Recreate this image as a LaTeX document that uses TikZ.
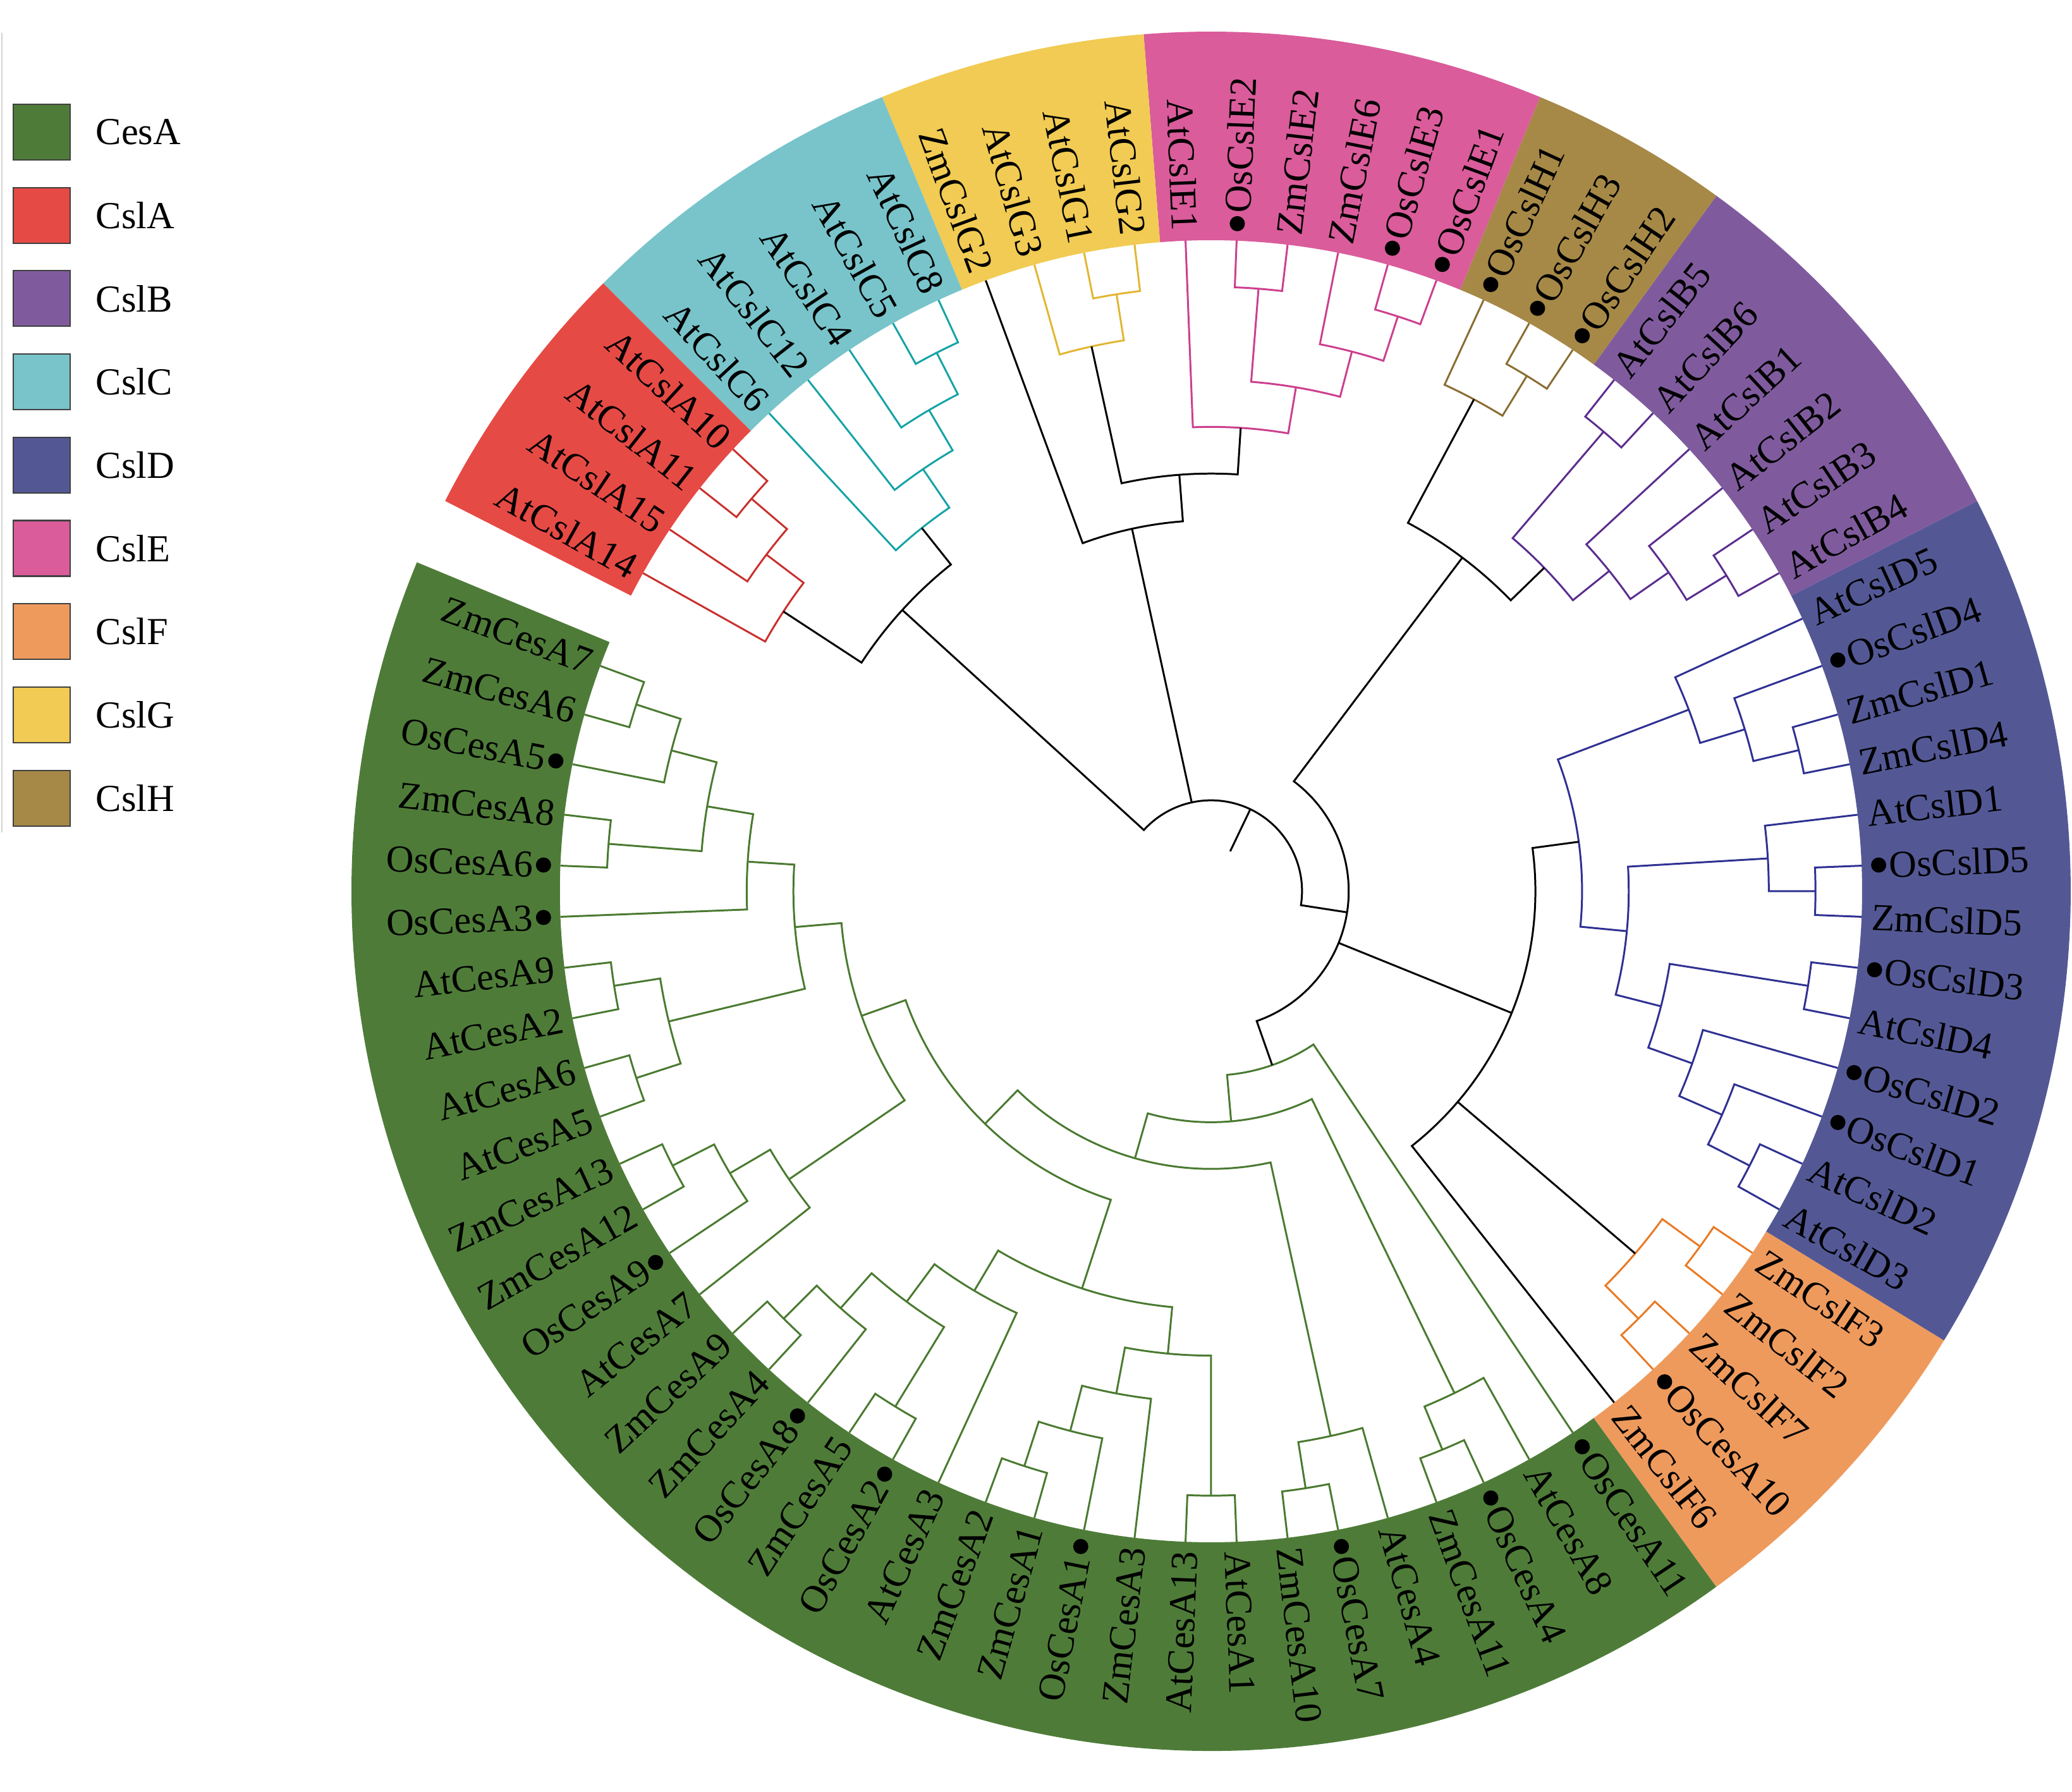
\documentclass[tikz,border=0pt]{standalone}
\usepackage{fontspec}
\setmainfont{Liberation Serif}
\usetikzlibrary{positioning}

\definecolor{cesaFill}{HTML}{4E7C38}
\definecolor{cslaFill}{HTML}{E64A45}
\definecolor{cslbFill}{HTML}{7F5B9D}
\definecolor{cslcFill}{HTML}{78C4CA}
\definecolor{csldFill}{HTML}{535895}
\definecolor{csleFill}{HTML}{DA5C9B}
\definecolor{cslfFill}{HTML}{EE9A5D}
\definecolor{cslgFill}{HTML}{F1CB53}
\definecolor{cslhFill}{HTML}{A68947}
\definecolor{cesaLine}{HTML}{4A7A30}
\definecolor{cslaLine}{HTML}{C8312D}
\definecolor{cslbLine}{HTML}{5B2D8E}
\definecolor{cslcLine}{HTML}{16A3A6}
\definecolor{csldLine}{HTML}{2F3192}
\definecolor{csleLine}{HTML}{CC3F8E}
\definecolor{cslfLine}{HTML}{E87A25}
\definecolor{cslgLine}{HTML}{E2B632}
\definecolor{cslhLine}{HTML}{8A6D33}

\tikzset{
  twig/.style={line width=0.85pt},
  backbone/.style={twig, draw=black},
  cesa/.style={twig, draw=cesaLine},
  csla/.style={twig, draw=cslaLine},
  cslb/.style={twig, draw=cslbLine},
  cslc/.style={twig, draw=cslcLine},
  csld/.style={twig, draw=csldLine},
  csle/.style={twig, draw=csleLine},
  cslf/.style={twig, draw=cslfLine},
  cslg/.style={twig, draw=cslgLine},
  cslh/.style={twig, draw=cslhLine},
  leaflabel/.style={inner sep=0pt, font=\fontsize{17.2}{20}\selectfont},
  legendbox/.style={draw=black!75, line width=0.6pt, minimum width=0.90cm,
    minimum height=0.88cm, inner sep=0pt},
  legendtext/.style={inner sep=0pt, font=\fontsize{17.2}{20}\selectfont},
}

% leaf: name, slot, dot
\newcommand{\leaf}[3]{%
  \pgfmathsetmacro{\lang}{159.75+4.5*#2}%
  \expandafter\xdef\csname ang@#1\endcsname{\lang}%
  \expandafter\xdef\csname rad@#1\endcsname{10.3}%
  \ifnum#3=1 \fill (\lang:10.57) circle[radius=0.12];\def\lrad{10.73}\else\def\lrad{10.45}\fi
  \pgfmathtruncatemacro{\lside}{cos(\lang)>=0}%
  \ifnum\lside=1
    \node[leaflabel, anchor=west, rotate=\lang] at (\lang:\lrad) {#1};
  \else
    \node[leaflabel, anchor=east, rotate=\lang+180] at (\lang:\lrad) {#1};
  \fi
}
% clade: [style]{name}{level}{left}{right}
\newcommand{\clade}[5][backbone]{%
  \pgfmathsetmacro{\crad}{0.70+0.7385*#3}%
  \edef\aL{\csname ang@#4\endcsname}%
  \edef\aR{\csname ang@#5\endcsname}%
  \pgfmathsetmacro{\aM}{(\aL+\aR)/2}%
  \draw[#1] (\aL:\csname rad@#4\endcsname) -- (\aL:\crad)
    arc[start angle=\aL, end angle=\aR, radius=\crad] -- (\aR:\csname rad@#5\endcsname);
  \expandafter\xdef\csname ang@#2\endcsname{\aM}%
  \expandafter\xdef\csname rad@#2\endcsname{\crad}%
}
% extra child line: [style]{child}{level}
\newcommand{\stem}[3][backbone]{%
  \pgfmathsetmacro{\crad}{0.70+0.7385*#3}%
  \edef\aC{\csname ang@#2\endcsname}%
  \draw[#1] (\aC:\csname rad@#2\endcsname) -- (\aC:\crad);
}
\newcommand{\sector}[3]{%
  \fill[#1] (#2:10.3) arc[start angle=#2, end angle=#3, radius=10.3]
    -- (#3:13.6) arc[start angle=#3, end angle=#2, radius=13.6] -- cycle;
}

\begin{document}
\begin{tikzpicture}
\useasboundingbox (-19.16,-14.25) rectangle (13.62,14.10);

% coloured ring
\sector{cesaFill}{157.5}{306}
\sector{cslfFill}{306}{328.5}
\sector{csldFill}{328.5}{387}
\sector{cslbFill}{387}{414}
\sector{cslhFill}{414}{427.5}
\sector{csleFill}{427.5}{454.5}
\sector{cslgFill}{454.5}{472.5}
\sector{cslcFill}{472.5}{495}
\sector{cslaFill}{495}{513}

% leaves
\foreach \n/\s/\d in {
  ZmCesA7/0/0, ZmCesA6/1/0, OsCesA5/2/1, ZmCesA8/3/0, OsCesA6/4/1, OsCesA3/5/1,
  AtCesA9/6/0, AtCesA2/7/0, AtCesA6/8/0, AtCesA5/9/0, ZmCesA13/10/0, ZmCesA12/11/0,
  OsCesA9/12/1, AtCesA7/13/0, ZmCesA9/14/0, ZmCesA4/15/0, OsCesA8/16/1, ZmCesA5/17/0,
  OsCesA2/18/1, AtCesA3/19/0, ZmCesA2/20/0, ZmCesA1/21/0, OsCesA1/22/1, ZmCesA3/23/0,
  AtCesA13/24/0, AtCesA1/25/0, ZmCesA10/26/0, OsCesA7/27/1, AtCesA4/28/0, ZmCesA11/29/0,
  OsCesA4/30/1, AtCesA8/31/0, OsCesA11/32/1,
  ZmCslF6/33/0, OsCesA10/34/1, ZmCslF7/35/0, ZmCslF2/36/0, ZmCslF3/37/0,
  AtCslD3/38/0, AtCslD2/39/0, OsCslD1/40/1, OsCslD2/41/1, AtCslD4/42/0, OsCslD3/43/1,
  ZmCslD5/44/0, OsCslD5/45/1, AtCslD1/46/0, ZmCslD4/47/0, ZmCslD1/48/0, OsCslD4/49/1,
  AtCslD5/50/0,
  AtCslB4/51/0, AtCslB3/52/0, AtCslB2/53/0, AtCslB1/54/0, AtCslB6/55/0, AtCslB5/56/0,
  OsCslH2/57/1, OsCslH3/58/1, OsCslH1/59/1,
  OsCslE1/60/1, OsCslE3/61/1, ZmCslE6/62/0, ZmCslE2/63/0, OsCslE2/64/1, AtCslE1/65/0,
  AtCslG2/66/0, AtCslG1/67/0, AtCslG3/68/0, ZmCslG2/69/0,
  AtCslC8/70/0, AtCslC5/71/0, AtCslC4/72/0, AtCslC12/73/0, AtCslC6/74/0,
  AtCslA10/75/0, AtCslA11/76/0, AtCslA15/77/0, AtCslA14/78/0}
  {\leaf{\n}{\s}{\d}}

% CesA
\clade[cesa]{ce01}{12}{ZmCesA7}{ZmCesA6}
\clade[cesa]{ce02}{11}{ce01}{OsCesA5}
\clade[cesa]{ce34}{12}{ZmCesA8}{OsCesA6}
\clade[cesa]{ce04}{10}{ce02}{ce34}
\clade[cesa]{ce05}{9}{ce04}{OsCesA3}
\clade[cesa]{ce67}{12}{AtCesA9}{AtCesA2}
\clade[cesa]{ce89}{12}{AtCesA6}{AtCesA5}
\clade[cesa]{ce69}{11}{ce67}{ce89}
\clade[cesa]{ce09}{8}{ce05}{ce69}
\clade[cesa]{ce1011}{12}{ZmCesA13}{ZmCesA12}
\clade[cesa]{ce1012}{11}{ce1011}{OsCesA9}
\clade[cesa]{ce1013}{10}{ce1012}{AtCesA7}
\clade[cesa]{ce013}{7}{ce09}{ce1013}
\clade[cesa]{ce1415}{12}{ZmCesA9}{ZmCesA4}
\clade[cesa]{ce1416}{11}{ce1415}{OsCesA8}
\clade[cesa]{ce1718}{12}{ZmCesA5}{OsCesA2}
\clade[cesa]{ce1418}{10}{ce1416}{ce1718}
\clade[cesa]{ce1419}{9}{ce1418}{AtCesA3}
\clade[cesa]{ce2021}{12}{ZmCesA2}{ZmCesA1}
\clade[cesa]{ce2022}{11}{ce2021}{OsCesA1}
\clade[cesa]{ce2023}{10}{ce2022}{ZmCesA3}
\clade[cesa]{ce2425}{12}{AtCesA13}{AtCesA1}
\clade[cesa]{ce2025}{9}{ce2023}{ce2425}
\clade[cesa]{ce1425}{8}{ce1419}{ce2025}
\clade[cesa]{ce025}{6}{ce013}{ce1425}
\clade[cesa]{ce2627}{12}{ZmCesA10}{OsCesA7}
\clade[cesa]{ce2628}{11}{ce2627}{AtCesA4}
\clade[cesa]{ce028}{5}{ce025}{ce2628}
\clade[cesa]{ce2930}{12}{ZmCesA11}{OsCesA4}
\clade[cesa]{ce2931}{11}{ce2930}{AtCesA8}
\clade[cesa]{ce031}{4}{ce028}{ce2931}
\clade[cesa]{ceRoot}{3}{ce031}{OsCesA11}

% CslF and CslD
\clade[cslf]{f3435}{12}{OsCesA10}{ZmCslF7}
\clade[cslf]{f3637}{12}{ZmCslF2}{ZmCslF3}
\clade[cslf]{fRoot}{11}{f3435}{f3637}
\clade[csld]{d3839}{12}{AtCslD3}{AtCslD2}
\clade[csld]{d3840}{11}{d3839}{OsCslD1}
\clade[csld]{d3841}{10}{d3840}{OsCslD2}
\clade[csld]{d4243}{12}{AtCslD4}{OsCslD3}
\clade[csld]{d3843}{9}{d3841}{d4243}
\clade[csld]{d4445}{12}{ZmCslD5}{OsCslD5}
\clade[csld]{d4446}{11}{d4445}{AtCslD1}
\clade[csld]{d3846}{8}{d3843}{d4446}
\clade[csld]{d4748}{12}{ZmCslD4}{ZmCslD1}
\clade[csld]{d4749}{11}{d4748}{OsCslD4}
\clade[csld]{d4750}{10}{d4749}{AtCslD5}
\clade[csld]{dRoot}{7}{d3846}{d4750}
\clade{df}{6}{ZmCslF6}{dRoot}
\stem{fRoot}{6}

% CslB and CslH
\clade[cslb]{b5152}{12}{AtCslB4}{AtCslB3}
\clade[cslb]{b5153}{11}{b5152}{AtCslB2}
\clade[cslb]{b5154}{10}{b5153}{AtCslB1}
\clade[cslb]{b5556}{12}{AtCslB6}{AtCslB5}
\clade[cslb]{bRoot}{9}{b5154}{b5556}
\clade[cslh]{h5758}{12}{OsCslH2}{OsCslH3}
\clade[cslh]{hRoot}{11}{h5758}{OsCslH1}
\clade{hb}{8}{bRoot}{hRoot}
\clade{core}{2}{ceRoot}{hb}
\stem{df}{2}

% CslE and CslG
\clade[csle]{e6061}{12}{OsCslE1}{OsCslE3}
\clade[csle]{e6062}{11}{e6061}{ZmCslE6}
\clade[csle]{e6364}{12}{ZmCslE2}{OsCslE2}
\clade[csle]{e6064}{10}{e6062}{e6364}
\clade[csle]{eRoot}{9}{e6064}{AtCslE1}
\clade[cslg]{g6667}{12}{AtCslG2}{AtCslG1}
\clade[cslg]{gRoot}{11}{g6667}{AtCslG3}
\clade{eg}{8}{eRoot}{gRoot}
\clade{egz}{7}{eg}{ZmCslG2}

% CslC and CslA
\clade[cslc]{cc7071}{12}{AtCslC8}{AtCslC5}
\clade[cslc]{cc7072}{11}{cc7071}{AtCslC4}
\clade[cslc]{cc7073}{10}{cc7072}{AtCslC12}
\clade[cslc]{ccRoot}{9}{cc7073}{AtCslC6}
\clade[csla]{a7576}{12}{AtCslA10}{AtCslA11}
\clade[csla]{a7577}{11}{a7576}{AtCslA15}
\clade[csla]{aRoot}{10}{a7577}{AtCslA14}
\clade{ac}{8}{ccRoot}{aRoot}

% root
\clade{root}{1}{core}{ac}
\stem{egz}{1}
\stem{root}{0}

% legend
\draw[gray!35, line width=0.6pt] (-19.13,13.58) -- (-19.13,0.93);
\foreach \nm/\col [count=\k from 0] in {CesA/cesaFill, CslA/cslaFill, CslB/cslbFill,
    CslC/cslcFill, CslD/csldFill, CslE/csleFill, CslF/cslfFill, CslG/cslgFill, CslH/cslhFill}{
  \pgfmathsetmacro{\ly}{12.01-1.317*\k}
  \node[legendbox, fill=\col] (key\k) at (-18.50,\ly) {};
  \node[legendtext, right=0.39cm of key\k] {\nm};
}
\end{tikzpicture}
\end{document}
